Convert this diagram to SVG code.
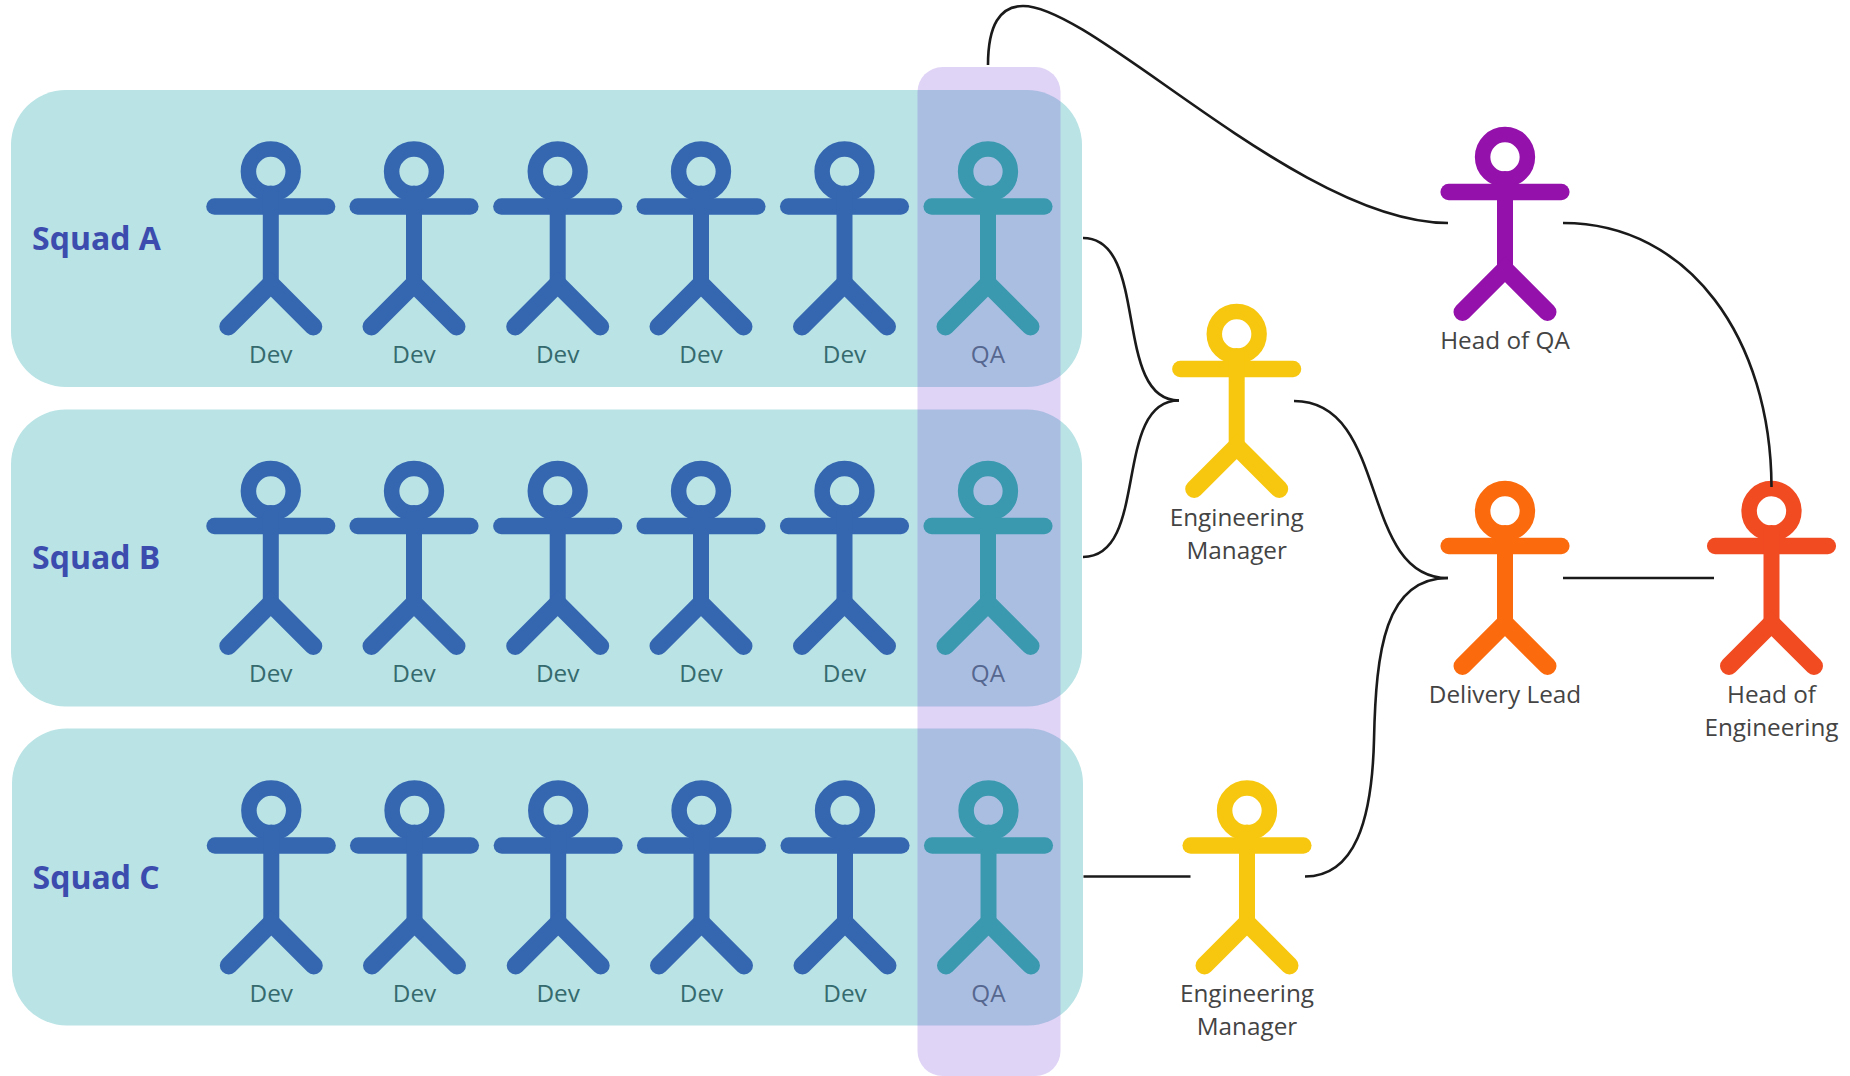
<svg xmlns="http://www.w3.org/2000/svg" xmlns:xlink="http://www.w3.org/1999/xlink" width="1850" height="1076" viewBox="0 0 1850 1076">
<style>
text{font-family:"Open Sans","Noto Sans",sans-serif;text-anchor:middle}
.squad{fill:#b9e3e5}
.col{fill:#7f50da;fill-opacity:.25}
.squadlabel{font-size:32px;font-weight:700;fill:#3b4cae;text-anchor:start}
.lab{font-size:24.300px;fill:#356a6e}
.qa{font-size:24.300px;fill:#56678f}
.role{font-size:24.300px;fill:#444}
.dev{stroke:#3566b0}.qafig{stroke:#3a99ae}.em{stroke:#f7c70f}.dl{stroke:#fb6b0e}.he{stroke:#f14b22}.hq{stroke:#9411ab}
#connectors path{fill:none;stroke:#1a1a1a;stroke-width:2.6}
</style>
<defs>
<g id="stick" fill="none" stroke-linecap="round" stroke-linejoin="miter">
<circle cx="0" cy="0" r="22.400" stroke-width="15.500"/>
<path stroke-width="16.500" d="M-56.300 35H56.300"/>
<path stroke-width="16" d="M0 22V112"/>
<path stroke-width="18" d="M-42.500 155L0 112.500L42.500 155"/>
</g>
</defs>
<rect width="1850" height="1076" fill="#fff"/>
<g id="squad-a-box"><rect class="squad" x="11" y="90" width="1071" height="297" rx="55"/></g>
<g id="squad-b-box"><rect class="squad" x="11" y="409.500" width="1071" height="297" rx="55"/></g>
<g id="squad-c-box"><rect class="squad" x="12" y="728.500" width="1071" height="297" rx="55"/></g>
<g id="squad-a"><text class="squadlabel" x="32" y="250">Squad A</text>
<g class="dev"><use href="#stick" x="270.800" y="171.500"/><use href="#stick" x="414" y="171.500"/><use href="#stick" x="557.700" y="171.500"/><use href="#stick" x="701" y="171.500"/><use href="#stick" x="844.500" y="171.500"/></g>
<text class="lab" x="270.800" y="362.500">Dev</text><text class="lab" x="414" y="362.500">Dev</text><text class="lab" x="557.700" y="362.500">Dev</text><text class="lab" x="701" y="362.500">Dev</text><text class="lab" x="844.500" y="362.500">Dev</text></g>
<g id="squad-b"><text class="squadlabel" x="32" y="569">Squad B</text>
<g class="dev"><use href="#stick" x="270.800" y="491"/><use href="#stick" x="414" y="491"/><use href="#stick" x="557.700" y="491"/><use href="#stick" x="701" y="491"/><use href="#stick" x="844.500" y="491"/></g>
<text class="lab" x="270.800" y="682">Dev</text><text class="lab" x="414" y="682">Dev</text><text class="lab" x="557.700" y="682">Dev</text><text class="lab" x="701" y="682">Dev</text><text class="lab" x="844.500" y="682">Dev</text></g>
<g id="squad-c"><text class="squadlabel" x="32.500" y="888.500">Squad C</text>
<g class="dev"><use href="#stick" x="271.300" y="810.500"/><use href="#stick" x="414.500" y="810.500"/><use href="#stick" x="558.200" y="810.500"/><use href="#stick" x="701.500" y="810.500"/><use href="#stick" x="845" y="810.500"/></g>
<text class="lab" x="271.300" y="1001.500">Dev</text><text class="lab" x="414.500" y="1001.500">Dev</text><text class="lab" x="558.200" y="1001.500">Dev</text><text class="lab" x="701.500" y="1001.500">Dev</text><text class="lab" x="845" y="1001.500">Dev</text></g>
<g id="qa-column"><rect class="col" x="917.500" y="67" width="143" height="1009" rx="25"/></g>
<g id="qa-a"><use class="qafig" href="#stick" x="988" y="171.500"/><text class="qa" x="988" y="362.500">QA</text></g>
<g id="qa-b"><use class="qafig" href="#stick" x="988" y="491"/><text class="qa" x="988" y="682">QA</text></g>
<g id="qa-c"><use class="qafig" href="#stick" x="988.500" y="810.500"/><text class="qa" x="988.500" y="1001.500">QA</text></g>
<g id="em-1"><use class="em" href="#stick" x="1236.700" y="334"/><text class="role" x="1236.700" y="525.500">Engineering</text><text class="role" x="1236.700" y="558.500">Manager</text></g>
<g id="em-2"><use class="em" href="#stick" x="1247" y="810.500"/><text class="role" x="1247" y="1001.500">Engineering</text><text class="role" x="1247" y="1034.500">Manager</text></g>
<g id="delivery-lead"><use class="dl" href="#stick" x="1505" y="511"/><text class="role" x="1505" y="702.500">Delivery Lead</text></g>
<g id="head-of-engineering"><use class="he" href="#stick" x="1771.500" y="511"/><text class="role" x="1771.500" y="702.500">Head of</text><text class="role" x="1771.500" y="735.500">Engineering</text></g>
<g id="head-of-qa"><use class="hq" href="#stick" x="1505" y="157"/><text class="role" x="1505" y="348.500">Head of QA</text></g>
<g id="connectors">
<path d="M988 65C988 25 1000 6 1023 6C1095 6 1300 223 1448 223"/>
<path d="M1563 223C1690 223 1771 340 1771.500 487"/>
<path d="M1083 238C1150 238 1112 400.500 1179 400.500"/>
<path d="M1083 557C1150 557 1112 400.500 1179 400.500"/>
<path d="M1294 401C1390 401 1358 578 1448 578"/>
<path d="M1305 876.500C1355 876.500 1372 820 1374 740C1376 650 1385 578 1448 578"/>
<path d="M1083.500 876.500H1190.500"/>
<path d="M1563 578H1714"/>
</g>
</svg>
